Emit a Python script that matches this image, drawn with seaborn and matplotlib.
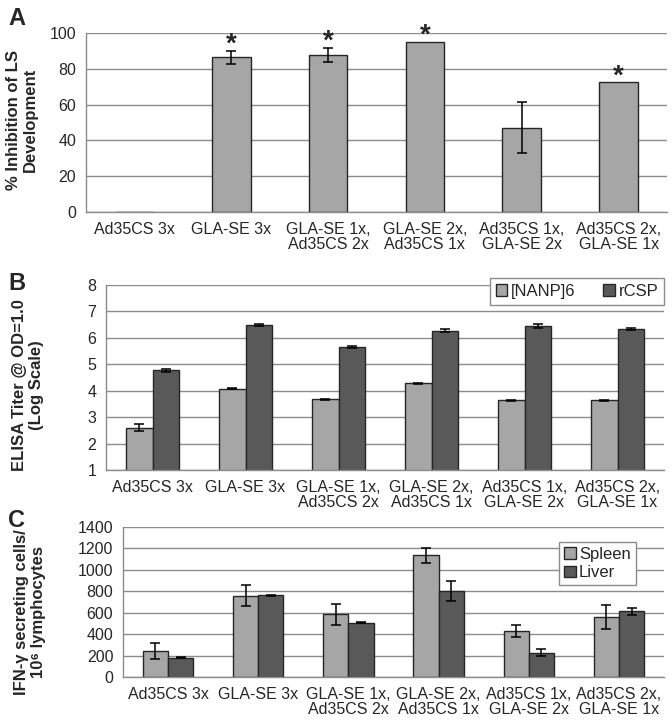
import numpy as np
import pandas as pd
import matplotlib
matplotlib.use('Agg')
import matplotlib.pyplot as plt
from matplotlib.patches import Patch
import seaborn as sns

# data
groups = ['Ad35CS 3x', 'GLA-SE 3x', 'GLA-SE 1x,\nAd35CS 2x', 'GLA-SE 2x,\nAd35CS 1x',
          'Ad35CS 1x,\nGLA-SE 2x', 'Ad35CS 2x,\nGLA-SE 1x']

# panel A: % inhibition of liver stage development
inhib = [0, 86.5, 87.7, 95.2, 47.0, 72.5]
inhib_err = [0, 3.6, 4.1, 0, 14.2, 0]
inhib_sig = [False, True, True, True, False, True]

# panel B: ELISA titers (log scale)
nanp = [2.60, 4.08, 3.68, 4.28, 3.63, 3.63]
nanp_err = [0.13, 0.02, 0.02, 0.02, 0.03, 0.03]
rcsp = [4.77, 6.49, 5.65, 6.27, 6.45, 6.34]
rcsp_err = [0.05, 0.04, 0.04, 0.05, 0.07, 0.03]

# panel C: IFN-g ELISpot
spleen = [245, 760, 585, 1135, 428, 560]
spleen_err = [76, 95, 95, 72, 57, 112]
liver = [180, 762, 505, 800, 227, 613]
liver_err = [4, 4, 4, 95, 30, 34]

light = '#a6a6a6'
dark = '#595959'
edge = '#262626'
gridc = '#8c8c8c'

sns.set_style('white')
plt.rcParams['font.family'] = ['Liberation Sans', 'DejaVu Sans']

fig = plt.figure(figsize=(6.72, 7.26), dpi=100)
W, H = 672.0, 726.0


def px_axes(l, r, t, b):
    return fig.add_axes([l / W, 1 - b / H, (r - l) / W, (b - t) / H])


def style_axes(ax, ymin, ymax, step):
    ax.set_ylim(ymin, ymax)
    ax.set_yticks(np.arange(ymin, ymax + step / 2, step))
    ax.set_xlim(-0.5, 5.5)
    ax.set_xticks(range(len(groups)))
    ax.set_xticklabels(groups, fontsize=11.5, linespacing=1.05)
    ax.set_xticks(np.arange(-0.5, 6, 1), minor=True)
    ax.tick_params(axis='x', which='major', length=0, pad=7)
    ax.tick_params(axis='x', which='minor', length=5, color=gridc, direction='out')
    ax.tick_params(axis='y', length=4, color=gridc, labelsize=11.5, pad=3)
    ax.yaxis.grid(True, color=gridc, lw=1)
    ax.set_axisbelow(True)
    for s in ['top', 'right']:
        ax.spines[s].set_visible(False)
    for s in ['left', 'bottom']:
        ax.spines[s].set_color(gridc)
        ax.spines[s].set_linewidth(1)
    ax.set_xlabel('')
    ax.set_ylabel('')


def add_errors(ax, tops, errs):
    bars = sorted(ax.patches, key=lambda p: p.get_x())
    xs = [p.get_x() + p.get_width() / 2 for p in bars]
    for x, t, e in zip(xs, tops, errs):
        if e > 0:
            ax.errorbar(x, t, yerr=e, fmt='none', ecolor='black', elinewidth=1.1,
                        capsize=3.5, capthick=1.1)
    return xs


# ---------------- A ----------------
axA = px_axes(86, 667, 33, 212)
sns.barplot(x=groups, y=inhib, color=light, width=0.4, edgecolor=edge,
            linewidth=1, saturation=1, ax=axA)
style_axes(axA, 0, 100, 20)
xsA = add_errors(axA, inhib, inhib_err)
for x, v, e, s in zip(xsA, inhib, inhib_err, inhib_sig):
    if s:
        axA.annotate('*', xy=(x, v + e), xytext=(0, -1), textcoords='offset points',
                     ha='center', va='baseline', fontsize=20, fontweight='bold')

# ---------------- B ----------------
dfB = pd.DataFrame({'group': groups * 2,
                    'antigen': ['[NANP]6'] * 6 + ['rCSP'] * 6,
                    'titer': nanp + rcsp})
axB = px_axes(106, 664, 285, 470)
sns.barplot(data=dfB, x='group', y='titer', hue='antigen', palette=[light, dark],
            width=0.58, edgecolor=edge, linewidth=1, saturation=1, legend=False, ax=axB)
style_axes(axB, 1, 8, 1)
topsB = [v for pair in zip(nanp, rcsp) for v in pair]
errsB = [v for pair in zip(nanp_err, rcsp_err) for v in pair]
add_errors(axB, topsB, errsB)
axB.legend(handles=[Patch(facecolor=light, edgecolor=edge, label='[NANP]6'),
                    Patch(facecolor=dark, edgecolor=edge, label='rCSP')],
           ncol=2, loc='upper right', bbox_to_anchor=(664 / W, 1 - 278 / H),
           bbox_transform=fig.transFigure, fontsize=12, frameon=True, fancybox=False,
           edgecolor=gridc, framealpha=1, handlelength=0.7, handleheight=0.7,
           handletextpad=0.2, columnspacing=1.7, borderpad=0.35, borderaxespad=0)

# ---------------- C ----------------
dfC = pd.DataFrame({'group': groups * 2,
                    'organ': ['Spleen'] * 6 + ['Liver'] * 6,
                    'spots': spleen + liver})
axC = px_axes(123, 664, 527, 677)
sns.barplot(data=dfC, x='group', y='spots', hue='organ', palette=[light, dark],
            width=0.56, edgecolor=edge, linewidth=1, saturation=1, legend=False, ax=axC)
style_axes(axC, 0, 1400, 200)
topsC = [v for pair in zip(spleen, liver) for v in pair]
errsC = [v for pair in zip(spleen_err, liver_err) for v in pair]
add_errors(axC, topsC, errsC)
axC.legend(handles=[Patch(facecolor=light, edgecolor=edge, label='Spleen'),
                    Patch(facecolor=dark, edgecolor=edge, label='Liver')],
           loc='upper left', bbox_to_anchor=(559 / W, 1 - 542 / H),
           bbox_transform=fig.transFigure, fontsize=12, frameon=True, fancybox=False,
           edgecolor=gridc, framealpha=1, handlelength=0.7, handleheight=0.7,
           handletextpad=0.2, labelspacing=0.2, borderpad=0.3, borderaxespad=0)

# panel letters and y labels
for letter, ytop in [('A', 7), ('B', 272), ('C', 509)]:
    fig.text(8 / W, 1 - ytop / H, letter, fontsize=17, fontweight='bold', va='top', ha='left')

fig.text(22 / W, 1 - 120 / H, '% Inhibition of LS\nDevelopment', rotation=90,
         ha='center', va='center', fontsize=12, fontweight='bold', linespacing=1.1)
fig.text(28 / W, 1 - 385 / H, 'ELISA Titer @ OD=1.0\n(Log Scale)', rotation=90,
         ha='center', va='center', fontsize=12, fontweight='bold', linespacing=1.1)
fig.text(30 / W, 1 - 612 / H, 'IFN-\u03b3 secreting cells/\n10\u2076 lymphocytes', rotation=90,
         ha='center', va='center', fontsize=12, fontweight='bold', linespacing=1.1)

fig.savefig('out.png', dpi=100)
plt.close(fig)
